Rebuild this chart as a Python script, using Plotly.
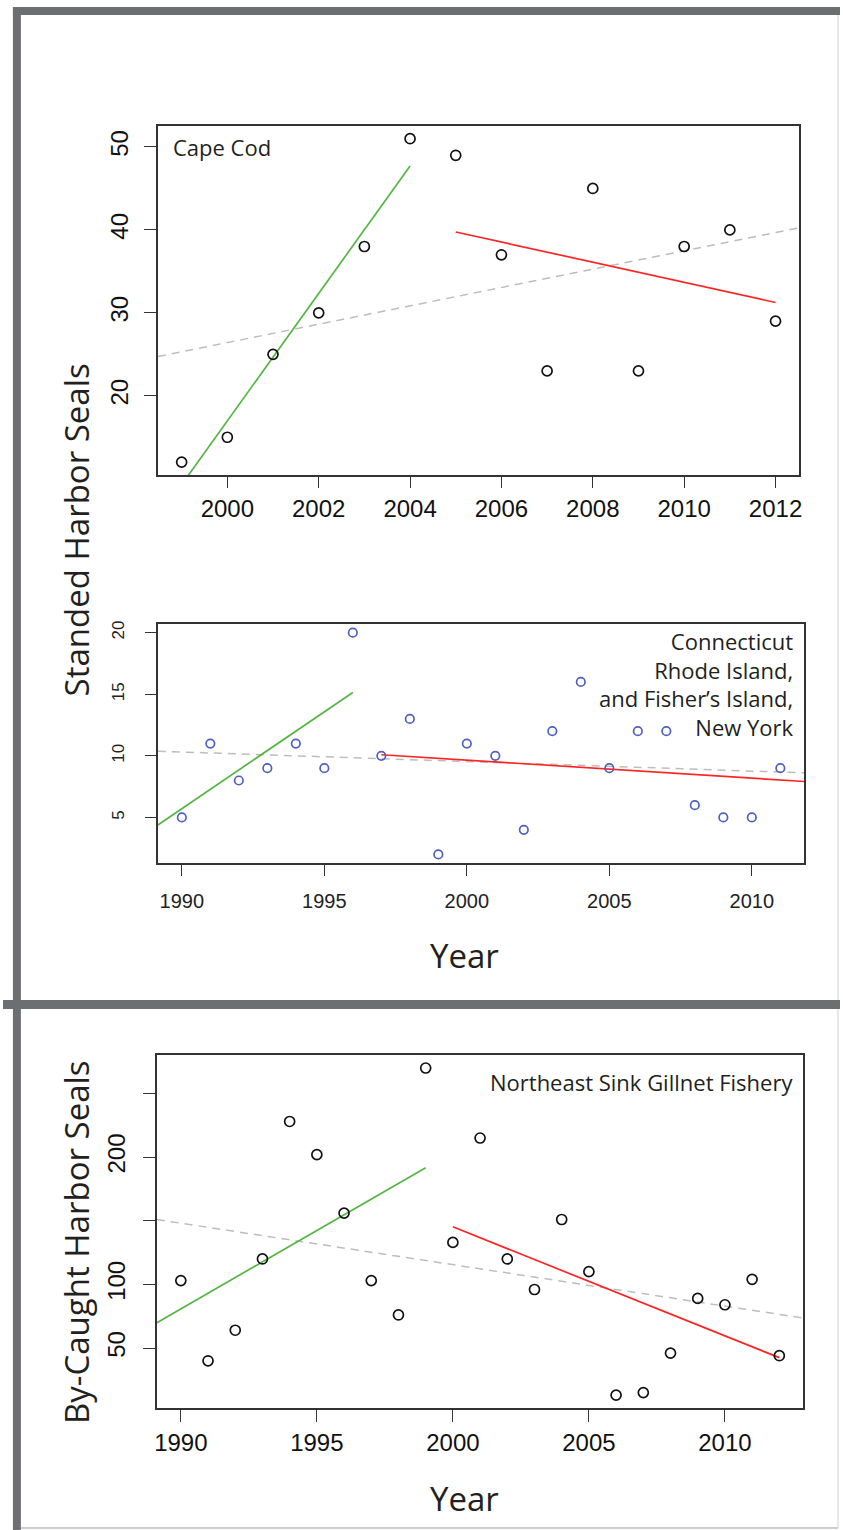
import numpy as np
import plotly.graph_objects as go

W, H = 843, 1530

# ---------------- data ----------------
# Cape Cod stranded harbor seals
cc_years = [1999, 2000, 2001, 2002, 2003, 2004, 2005, 2006, 2007, 2008, 2009, 2010, 2011, 2012]
cc_counts = [12, 15, 25, 30, 38, 51, 49, 37, 23, 45, 23, 38, 40, 29]
cc_fit_periods = [(1999, 2004), (2005, 2012)]
cc_draw_spans = [(1999, 2004), (2005, 2012)]

# Connecticut, Rhode Island and Fisher's Island NY stranded harbor seals
ct_years = [1990, 1991, 1992, 1993, 1994, 1995, 1996, 1997, 1998, 1999, 2000,
            2001, 2002, 2003, 2004, 2005, 2006, 2007, 2008, 2009, 2010, 2011]
ct_counts = [5, 11, 8, 9, 11, 9, 20, 10, 13, 2, 11, 10, 4, 12, 16, 9, 12, 12, 6, 5, 5, 9]
ct_fit_periods = [(1990, 1996), (1997, 2011)]
ct_draw_spans = [(None, 1996), (1997, None)]

# Northeast sink gillnet fishery by-caught harbor seals
gn_years = [1990, 1991, 1992, 1993, 1994, 1995, 1996, 1997, 1998, 1999, 2000, 2001,
            2002, 2003, 2004, 2005, 2006, 2007, 2008, 2009, 2010, 2011, 2012]
gn_counts = [103, 40, 64, 120, 228, 202, 156, 103, 76, 270, 133, 215,
             120, 96, 151, 110, 13, 15, 46, 89, 84, 104, 44]
gn_fit_periods = [(1990, 1999), (2000, 2012)]
gn_draw_spans = [(None, 1999), (2000, 2012)]

cc_xticks = [2000, 2002, 2004, 2006, 2008, 2010, 2012]
cc_yticks = [20, 30, 40, 50]
ct_xticks = [1990, 1995, 2000, 2005, 2010]
ct_yticks = [5, 10, 15, 20]
gn_xticks = [1990, 1995, 2000, 2005, 2010]
gn_yticks = [50, 100, 150, 200, 250]
gn_yticktext = ["50", "100", "", "200", ""]

# ---------------- styling ----------------
GREEN = "#55b544"
RED = "#ff2424"
GRAY = "#bdbdbd"
FRAME = "#6d6e71"
TXT = "#231f20"
TEXT_FONT = "Open Sans"
TICK_FONT = "Liberation Sans, Arial, sans-serif"


def rng(v):
    lo, hi = min(v), max(v)
    e = 0.04 * (hi - lo)
    return [lo - e, hi + e]


def px_dom_x(a, b):
    return [a / W, b / W]


def px_dom_y(top, bottom):
    return [1 - bottom / H, 1 - top / H]


fig = go.Figure()

panels = [
    dict(years=cc_years, counts=cc_counts, fits=cc_fit_periods, draws=cc_draw_spans,
         mcolor="#111111", msize=10, xs="x", ys="y"),
    dict(years=ct_years, counts=ct_counts, fits=ct_fit_periods, draws=ct_draw_spans,
         mcolor="#5060c0", msize=8.5, xs="x2", ys="y2"),
    dict(years=gn_years, counts=gn_counts, fits=gn_fit_periods, draws=gn_draw_spans,
         mcolor="#111111", msize=10, xs="x3", ys="y3"),
]

ranges = []
for p in panels:
    xr = rng(p["years"])
    yr = rng(p["counts"])
    ranges.append((xr, yr))
    yrs = np.array(p["years"], float)
    cnt = np.array(p["counts"], float)
    # overall trend (dashed, across the whole plot)
    c_all = np.polyfit(yrs, cnt, 1)
    fig.add_trace(go.Scatter(x=xr, y=np.polyval(c_all, xr), mode="lines",
                             line=dict(color=GRAY, width=1.5, dash="8px,6px"),
                             xaxis=p["xs"], yaxis=p["ys"], showlegend=False, hoverinfo="skip"))
    colors = [GREEN, RED]
    for (f0, f1), (d0, d1), col in zip(p["fits"], p["draws"], colors):
        m = (yrs >= f0) & (yrs <= f1)
        c = np.polyfit(yrs[m], cnt[m], 1)
        a = xr[0] if d0 is None else d0
        b = xr[1] if d1 is None else d1
        fig.add_trace(go.Scatter(x=[a, b], y=np.polyval(c, [a, b]), mode="lines",
                                 line=dict(color=col, width=1.7),
                                 xaxis=p["xs"], yaxis=p["ys"], showlegend=False, hoverinfo="skip"))
    fig.add_trace(go.Scatter(x=p["years"], y=p["counts"], mode="markers",
                             marker=dict(symbol="circle-open", size=p["msize"], color=p["mcolor"],
                                         line=dict(width=1.7, color=p["mcolor"])),
                             xaxis=p["xs"], yaxis=p["ys"], showlegend=False, hoverinfo="skip"))

axis_common = dict(showgrid=False, zeroline=False, showline=True, mirror=True,
                   linecolor="#333333", linewidth=1.5, ticks="outside", ticklen=12,
                   tickwidth=1.3, tickcolor="#333333")

(cc_xr, cc_yr), (ct_xr, ct_yr), (gn_xr, gn_yr) = ranges

fig.update_layout(
    width=W, height=H, autosize=False,
    margin=dict(l=0, r=0, t=0, b=0),
    paper_bgcolor="white", plot_bgcolor="white",
    xaxis=dict(axis_common, domain=px_dom_x(156, 802), range=cc_xr, anchor="y",
               tickvals=cc_xticks, ticklen=11,
               tickfont=dict(family=TICK_FONT, size=24, color="#111")),
    yaxis=dict(axis_common, domain=px_dom_y(123, 473), range=cc_yr, anchor="x",
               tickvals=cc_yticks, tickangle=-90, ticklabelstandoff=7,
               tickfont=dict(family=TICK_FONT, size=24, color="#111")),
    xaxis2=dict(axis_common, domain=px_dom_x(156, 807), range=ct_xr, anchor="y2",
                tickvals=ct_xticks, ticklen=11, ticklabelstandoff=8,
                tickfont=dict(family=TICK_FONT, size=20, color="#222")),
    yaxis2=dict(axis_common, domain=px_dom_y(622, 862), range=ct_yr, anchor="x2",
                tickvals=ct_yticks, tickangle=-90, ticklen=11, ticklabelstandoff=14,
                tickfont=dict(family=TICK_FONT, size=17, color="#222")),
    xaxis3=dict(axis_common, domain=px_dom_x(155, 806), range=gn_xr, anchor="y3",
                tickvals=gn_xticks, tickfont=dict(family=TICK_FONT, size=24, color="#111")),
    yaxis3=dict(axis_common, domain=px_dom_y(1054, 1408), range=gn_yr, anchor="x3",
                tickvals=gn_yticks, ticktext=gn_yticktext, tickangle=-90, ticklabelstandoff=9,
                tickfont=dict(family=TICK_FONT, size=24, color="#111")),
)


def ann(text, x, y, size, xanchor="center", align="center", angle=0):
    fig.add_annotation(text=text, x=x / W, y=1 - y / H, xref="paper", yref="paper",
                       showarrow=False, xanchor=xanchor, yanchor="middle", align=align,
                       textangle=angle, font=dict(family=TEXT_FONT, size=size, color=TXT))


ann("Cape Cod", 169, 144, 22, xanchor="left", align="left")
ann("Connecticut<br>Rhode Island,<br>and Fisher’s Island,<br>New York", 799, 682, 22,
    xanchor="right", align="right")
ann("Northeast Sink Gillnet Fishery", 798, 1081, 22, xanchor="right", align="right")
ann("Standed Harbor Seals", 74, 528, 33, angle=-90)
ann("Year", 465, 954, 33)
ann("By-Caught Harbor Seals", 74, 1241, 33, angle=-90)
ann("Year", 465, 1498, 33)

# ---------------- frame ----------------
def rect(x0, y0, x1, y1, color):
    fig.add_shape(type="rect", xref="paper", yref="paper", x0=x0 / W, x1=x1 / W,
                  y0=1 - y1 / H, y1=1 - y0 / H, fillcolor=color, line=dict(width=0), layer="above")


def line(x0, y0, x1, y1, color, w=1):
    fig.add_shape(type="line", xref="paper", yref="paper", x0=x0 / W, x1=x1 / W,
                  y0=1 - y0 / H, y1=1 - y1 / H, line=dict(color=color, width=w), layer="above")


line(841, 12, 841, 1528, "#d0d0d0", 1)
line(18, 1528, 841, 1528, "#bdbdbd", 1.5)
rect(10, 4, 843, 12, FRAME)
rect(10, 4, 18, 1530, FRAME)
rect(0, 999, 843, 1008, FRAME)

fig.write_html("out.html", config={"displayModeBar": False},
               post_script="document.body.style.margin='0';document.body.style.overflow='hidden';")
